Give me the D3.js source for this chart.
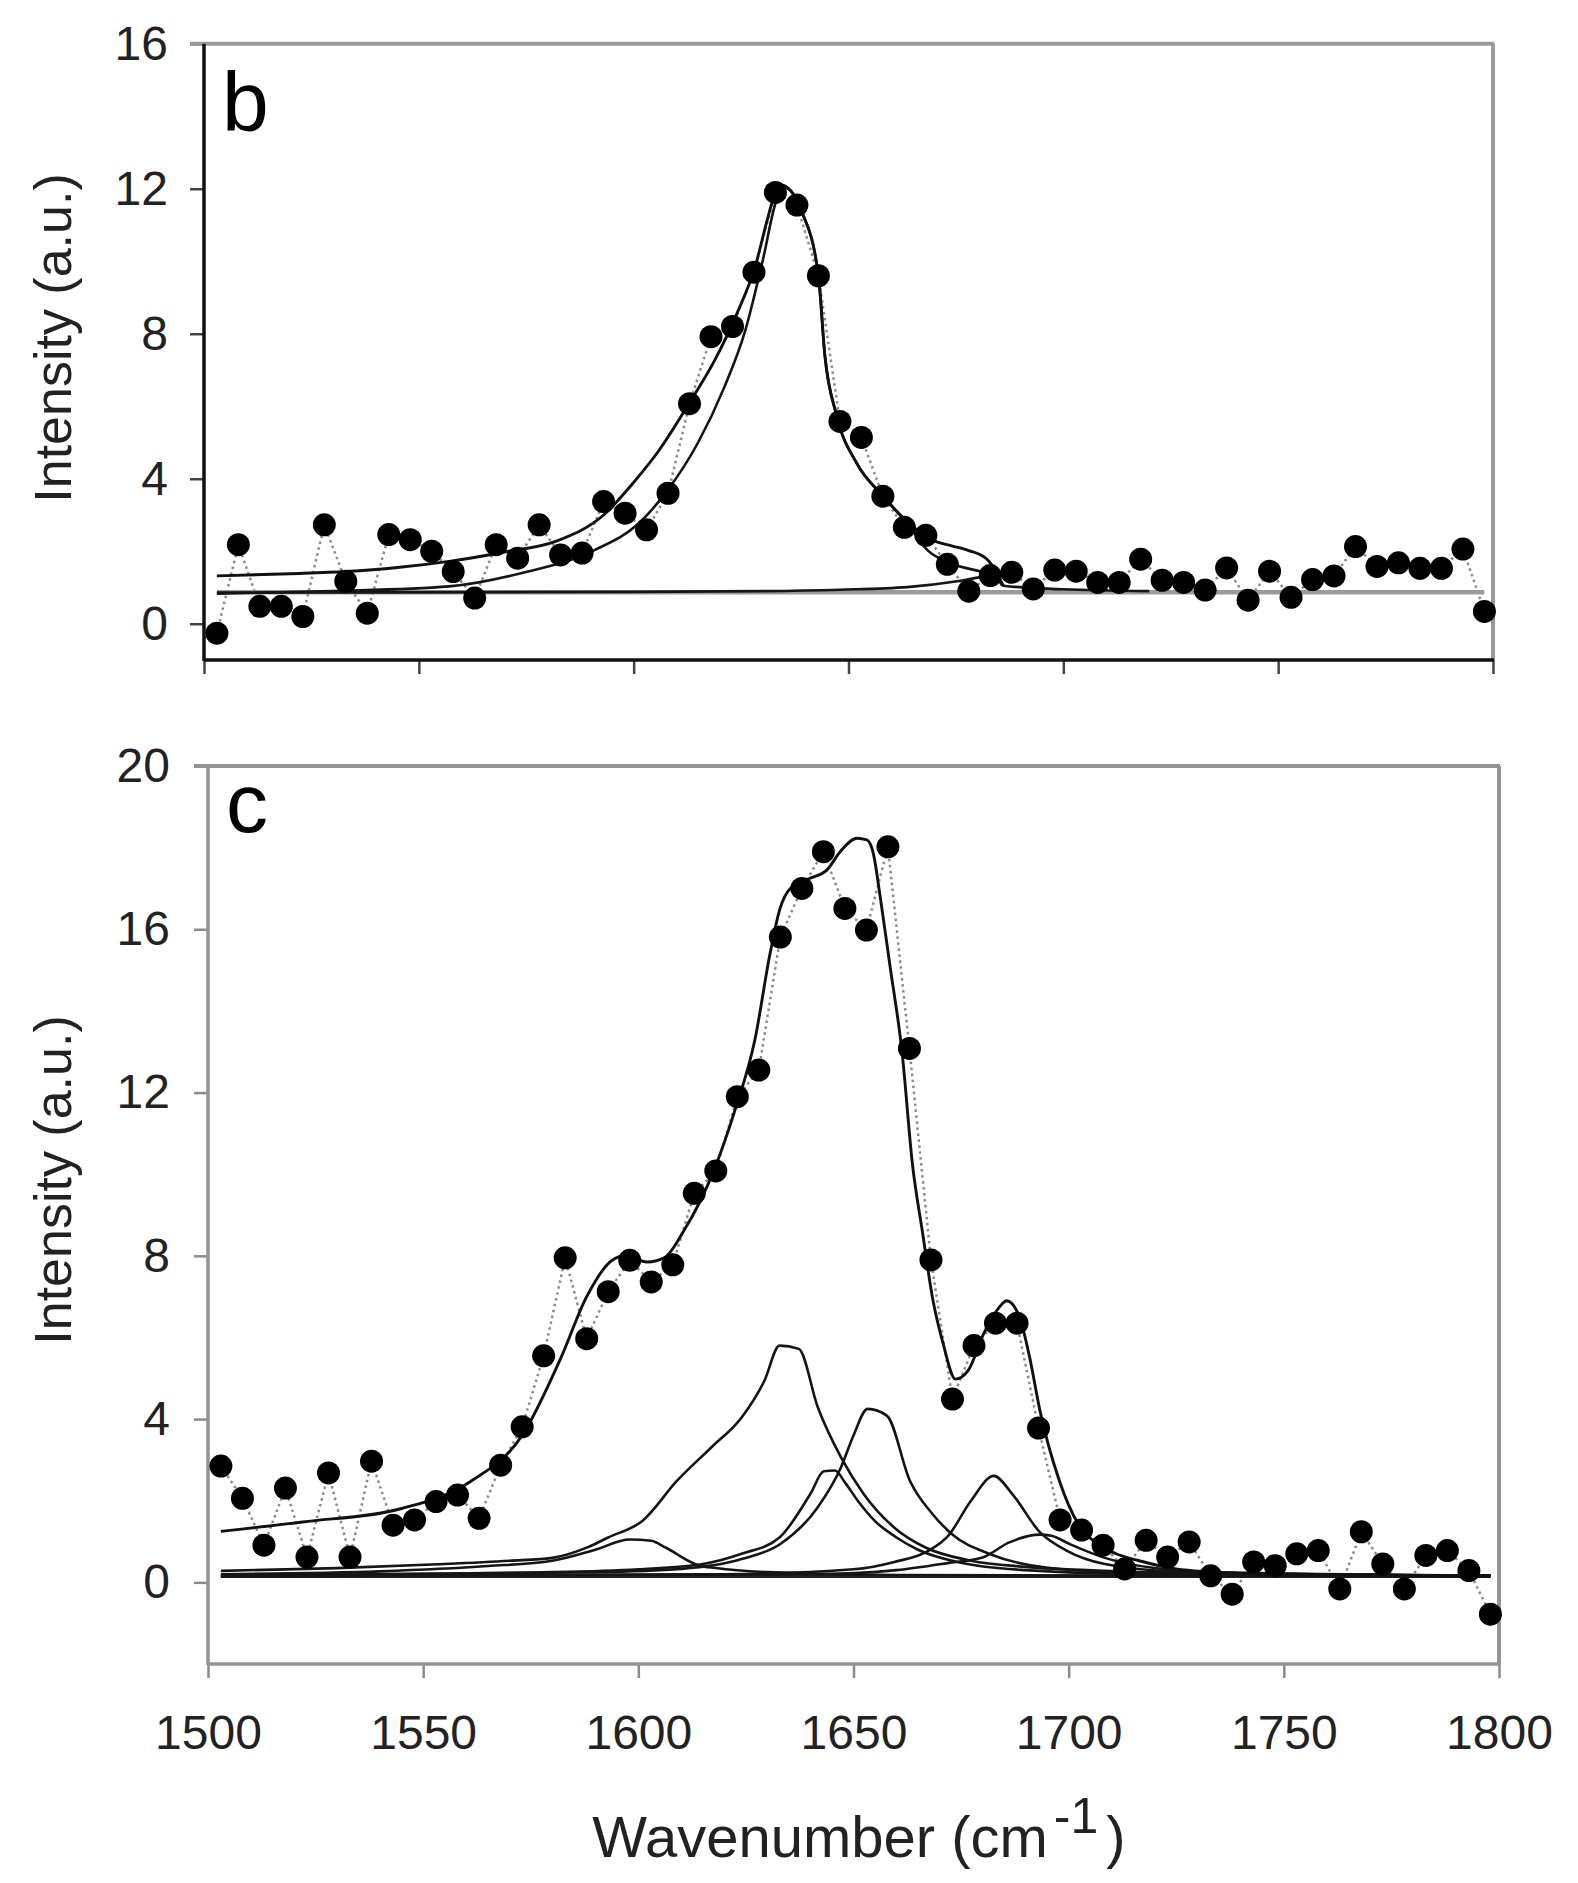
<!DOCTYPE html>
<html><head><meta charset="utf-8">
<script src="https://cdn.jsdelivr.net/npm/d3@7"></script>
<style>
html,body{margin:0;padding:0;background:#fff;}
svg{display:block;font-family:Arial,"Liberation Sans",Helvetica,sans-serif;}
</style></head><body>
<svg id="chart" width="1578" height="1883"></svg>
<script>
// ---------- DATA ----------
const wavenumbers = [1503,1508,1513,1518,1523,1528,1533,1538,1543,1548,
  1553,1558,1563,1568,1573,1578,1583,1588,1593,1598,
  1603,1608,1613,1618,1623,1628,1633,1638,1643,1648,
  1653,1658,1663,1668,1673,1678,1683,1688,1693,1698,
  1703,1708,1713,1718,1723,1728,1733,1738,1743,1748,
  1753,1758,1763,1768,1773,1778,1783,1788,1793,1798];

const bIntensity = [-0.26,2.18,0.48,0.48,0.2,2.73,1.17,0.29,2.46,2.32,
  2.0,1.44,0.71,2.18,1.81,2.73,1.9,1.95,3.37,3.05,
  2.59,3.6,6.07,7.92,8.2,9.7,11.9,11.55,9.6,5.58,
  5.14,3.52,2.66,2.44,1.64,0.9,1.33,1.42,0.96,1.48,
  1.45,1.14,1.14,1.78,1.2,1.14,0.93,1.54,0.65,1.45,
  0.73,1.22,1.32,2.13,1.58,1.68,1.53,1.53,2.06,0.34];

const cIntensity = [2.85,2.06,0.91,2.31,0.62,2.68,0.62,2.97,1.4,1.53,
  1.98,2.14,1.57,2.87,3.81,5.55,7.95,5.97,7.12,7.89,
  7.36,7.78,9.53,10.08,11.9,12.55,15.81,17.0,17.9,16.51,
  15.98,18.02,13.08,7.9,4.49,5.8,6.35,6.35,3.78,1.53,
  1.28,0.91,0.33,1.03,0.62,0.99,0.16,-0.29,0.5,0.41,
  0.7,0.78,-0.16,1.24,0.45,-0.16,0.66,0.78,0.29,-0.78];

// fitted curves, panel b  ([wavenumber, intensity])
const bFitSum = [[1503,1.32],[1520,1.38],[1533,1.44],[1545,1.55],[1557,1.72],[1570,1.98],[1582,2.28],
  [1593,3.0],[1600,3.9],[1606,4.8],[1613,6.1],[1619,7.3],[1624,8.55],[1628.4,9.9],[1631,11.1],
  [1633,11.9],[1634.5,12.1],[1636.5,11.95],[1639,11.4],[1643,9.6],[1644.5,7.4],[1647.2,5.76],
  [1652,4.41],[1657.9,3.54],[1663.8,2.8],[1669.7,2.3],[1674,2.15],[1678,2.02],[1682.3,1.77],
  [1684,1.5],[1686,1.05]];
const bFitMain = [[1503,0.83],[1530,0.9],[1557,1.03],[1574,1.4],[1591,2.04],[1601,2.75],[1608,3.7],
  [1615,5.0],[1621,6.5],[1626,8.1],[1630,10.0],[1633,11.6],[1634.5,12.05],[1636.5,11.95],[1639,11.4],
  [1643,9.6],[1644.5,7.4],[1647.2,5.76],[1652,4.41],[1657.9,3.54],[1663.8,2.75],[1668.3,2.04],
  [1673.8,1.67],[1680.7,1.44],[1684,1.33]];
const bFitMinor = [[1503,0.86],[1600,0.88],[1630,0.9],[1648,0.94],[1663.7,1.01],[1675.3,1.17],
  [1681.5,1.3],[1684,1.33],[1686,1.05],[1700,0.95],[1720,0.9]];
const bBaseline = [[1503,0.87],[1798,0.87]];

// fitted curves, panel c
const cFitSum = [[1503,1.25],[1522,1.48],[1545,1.81],[1561,2.47],[1573,3.6],[1582,5.5],[1588,7.0],
  [1594,7.9],[1597,8.0],[1602,7.85],[1606,7.95],[1610.5,8.6],[1617.7,10.13],[1622.4,11.55],
  [1627.1,13.3],[1630.6,15.4],[1632.9,16.5],[1635.3,17.0],[1639.9,17.25],[1643.8,17.45],
  [1646.9,17.9],[1650.8,18.23],[1653.1,18.19],[1654.6,17.86],[1656.2,16.8],[1658.4,15.16],
  [1661.3,12.97],[1663.7,10.24],[1666,8.6],[1668.4,6.95],[1670.8,5.86],[1673.7,4.98],
  [1676.7,5.2],[1680.2,6.08],[1683.8,6.73],[1685.6,6.9],[1688.5,6.52],[1690.9,5.53],
  [1693.3,4.22],[1697.8,2.5],[1702.2,1.43],[1706.6,0.95],[1711,0.7],[1716.4,0.53],
  [1725,0.33],[1740,0.22],[1760,0.18],[1798,0.16]];
const cBand1600 = [[1503,0.2],[1540,0.27],[1565,0.4],[1580,0.53],[1590,0.8],[1598,1.05],[1603,1.02],
  [1606.2,0.86],[1614.2,0.41],[1618,0.35],[1630,0.25],[1660,0.18],[1720,0.16],[1798,0.15]];
const cBand1635 = [[1503,0.28],[1530,0.35],[1555,0.45],[1570,0.53],[1580,0.6],[1588,0.85],[1593,1.1],
  [1601,1.51],[1609,2.49],[1617,3.31],[1624,4.04],[1629.3,4.94],[1632.8,5.8],[1637.3,5.72],
  [1641.7,4.29],[1647.1,3.06],[1652.4,2.16],[1659.5,1.34],[1666.6,0.86],[1677.3,0.53],
  [1690,0.38],[1710,0.28],[1750,0.2],[1798,0.17]];
const cBand1645 = [[1503,0.17],[1580,0.25],[1600,0.32],[1615,0.45],[1624,0.7],[1632.8,1.1],
  [1640,2.17],[1643.1,2.72],[1645.7,2.74],[1648,2.45],[1651,2.0],[1655,1.5],[1660,1.1],
  [1665,0.8],[1675,0.48],[1690,0.3],[1720,0.2],[1798,0.16]];
const cBand1655 = [[1503,0.17],[1590,0.25],[1610,0.33],[1624,0.57],[1633,0.94],[1641.7,1.84],
  [1647.1,2.82],[1650,3.6],[1653.3,4.25],[1657.8,4.08],[1663.1,2.49],[1668.4,1.67],[1672.9,1.18],
  [1681.8,0.69],[1695.2,0.36],[1720,0.22],[1798,0.16]];
const cBand1683 = [[1503,0.15],[1620,0.2],[1650,0.32],[1659.5,0.5],[1667.5,0.78],[1672,1.14],
  [1677.3,2.0],[1682.6,2.61],[1687,2.15],[1693.3,1.23],[1699.5,0.78],[1708.4,0.45],[1725,0.27],[1798,0.16]];
const cBand1693 = [[1503,0.15],[1640,0.2],[1660,0.3],[1672.9,0.49],[1680,0.61],[1686.2,0.98],
  [1693.3,1.17],[1696,1.14],[1700.4,0.93],[1708.4,0.6],[1720,0.35],[1740,0.22],[1798,0.16]];
const cBaseline = [[1503,0.15],[1798,0.15]];

const xTicks = [1500,1550,1600,1650,1700,1750,1800];
const bYTicks = [0,4,8,12,16];
const cYTicks = [0,4,8,12,16,20];
const panelLetters = ["b","c"];
const xTitle = "Wavenumber (cm";
const yTitle = "Intensity (a.u.)";

// ---------- DRAWING ----------
const svg = d3.select("#chart");

function drawPanel(cfg){
  const x = d3.scaleLinear().domain([1500,1800]).range(cfg.xRange);
  const y = d3.scaleLinear().domain(cfg.yDomain).range(cfg.yRange);
  const g = svg.append("g");
  const [x0,x1] = cfg.xRange, [yb,yt] = cfg.yRange;

  const ya = g.append("g").attr("transform",`translate(${x0},0)`)
    .call(d3.axisLeft(y).tickValues(cfg.yTicks).tickSize(14).tickPadding(cfg.yPad).tickSizeOuter(0));
  ya.select(".domain").remove();
  ya.selectAll(".tick line").attr("stroke",cfg.tickColor).attr("stroke-width",2.5);
  ya.selectAll(".tick text").attr("font-size",48).attr("fill","#222")
    .attr("font-family",'Arial,"Liberation Sans",sans-serif');

  const xa = g.append("g").attr("transform",`translate(0,${yb})`)
    .call(d3.axisBottom(x).tickValues(xTicks).tickSize(14).tickPadding(37).tickSizeOuter(0)
      .tickFormat(cfg.xLabels ? d3.format("d") : () => ""));
  xa.select(".domain").remove();
  xa.selectAll(".tick line").attr("stroke",cfg.tickColor).attr("stroke-width",2.5);
  xa.selectAll(".tick text").attr("font-size",48).attr("fill","#222")
    .attr("font-family",'Arial,"Liberation Sans",sans-serif');

  g.append("line").attr("x1",x0-14).attr("x2",x1+1).attr("y1",yt).attr("y2",yt)
    .attr("stroke",cfg.topColor).attr("stroke-width",4);
  g.append("line").attr("x1",x1).attr("x2",x1).attr("y1",yt).attr("y2",yb)
    .attr("stroke",cfg.topColor).attr("stroke-width",4);
  g.append("line").attr("x1",x0).attr("x2",x0).attr("y1",yt).attr("y2",yb+1)
    .attr("stroke",cfg.axisColor).attr("stroke-width",3.5);
  g.append("line").attr("x1",x0).attr("x2",x1+1).attr("y1",yb).attr("y2",yb)
    .attr("stroke",cfg.axisColor).attr("stroke-width",3.5);

  const line = d3.line().x(d=>x(d[0])).y(d=>y(d[1]));
  const smooth = d3.line().x(d=>x(d[0])).y(d=>y(d[1])).curve(d3.curveMonotoneX);

  const pts = wavenumbers.map((w,i)=>[w,cfg.values[i]]);
  g.append("path").datum(pts).attr("d",line).attr("fill","none")
    .attr("stroke","#8a8a8a").attr("stroke-width",2.5).attr("stroke-dasharray","2.5,3.5");

  g.append("path").datum(cfg.baseline).attr("d",line).attr("fill","none")
    .attr("stroke",cfg.baseColor).attr("stroke-width",cfg.baseWidth);

  cfg.components.forEach(c=>{
    g.append("path").datum(c).attr("d",smooth).attr("fill","none")
      .attr("stroke","#151515").attr("stroke-width",2.6).attr("stroke-linejoin","round");
  });
  g.append("path").datum(cfg.sum).attr("d",smooth).attr("fill","none")
    .attr("stroke","#111").attr("stroke-width",2.9).attr("stroke-linejoin","round");

  g.selectAll("circle.pt").data(pts).join("circle").attr("class","pt")
    .attr("cx",d=>x(d[0])).attr("cy",d=>y(d[1])).attr("r",11.5).attr("fill","#000");

  g.append("text").attr("x",x0+18).attr("y",cfg.letterY).attr("font-size",84)
    .attr("fill","#000").text(cfg.letter);

  g.append("text").attr("transform",`translate(71,${cfg.yTitleY}) rotate(-90)`)
    .attr("text-anchor","middle").attr("font-size",52).attr("fill","#222").text(yTitle);
}

drawPanel({
  xRange:[204,1493], yDomain:[-1,16], yRange:[660,43.75], yTicks:bYTicks, yPad:22,
  xLabels:false, tickColor:"#444", topColor:"#9a9a9a", axisColor:"#111",
  values:bIntensity, baseline:bBaseline, baseColor:"#9a9a9a", baseWidth:4.5,
  components:[bFitMinor,bFitMain], sum:bFitSum,
  letter:panelLetters[0], letterY:131, yTitleY:338
});

drawPanel({
  xRange:[208,1499], yDomain:[-2,20], yRange:[1664,766], yTicks:cYTicks, yPad:24,
  xLabels:true, tickColor:"#8a8a8a", topColor:"#939393", axisColor:"#939393",
  values:cIntensity, baseline:cBaseline, baseColor:"#222", baseWidth:3.5,
  components:[cBand1600,cBand1635,cBand1645,cBand1655,cBand1683,cBand1693], sum:cFitSum,
  letter:panelLetters[1], letterY:832, yTitleY:1180
});

const xt = svg.append("text").attr("x",859).attr("y",1857).attr("text-anchor","middle")
  .attr("font-size",58).attr("fill","#222");
xt.append("tspan").text(xTitle);
xt.append("tspan").attr("font-size",50).attr("dx",6).attr("dy",-24).text("-1");
xt.append("tspan").attr("dx",8).attr("dy",24).text(")");
</script>
</body></html>
